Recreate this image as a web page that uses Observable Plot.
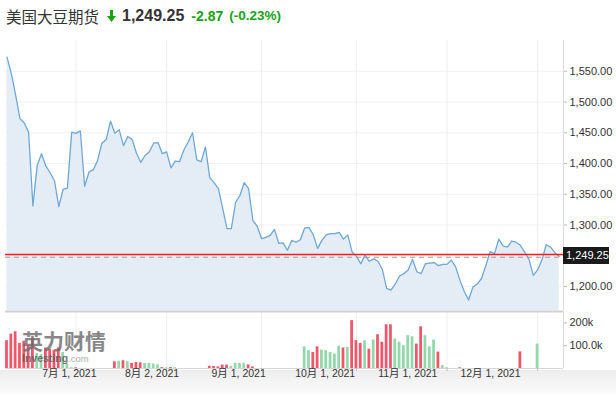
<!DOCTYPE html>
<html><head><meta charset="utf-8">
<script src="https://cdn.jsdelivr.net/npm/d3@7"></script>
<script src="https://cdn.jsdelivr.net/npm/@observablehq/plot@0.6"></script>
<style>
body{margin:0;width:616px;height:394px;position:relative;overflow:hidden;background:#fff;font-family:"Liberation Sans","Noto Sans CJK SC",sans-serif;}
#header{position:absolute;left:6px;top:4px;height:24px;line-height:24px;white-space:nowrap;color:#333;}
#header span{display:inline-block;vertical-align:top;}
.title{font-family:"Noto Sans CJK SC",sans-serif;font-size:15.5px;color:#333;}
.arrow{display:inline-block;vertical-align:top;margin:6px 6px 0 8px;}
.last{font-size:16px;font-weight:bold;color:#333;}
.chg{font-size:14px;font-weight:bold;color:#18a318;margin-left:7px;}
.pct{font-size:13.5px;font-weight:bold;color:#18a318;margin-left:6px;}
#price{position:absolute;left:0;top:34px;}
#tag{position:absolute;height:17px;width:46px;line-height:17px;background-color:#1a1a1a;color:#ffffff;font-size:11px;padding-left:3px;box-sizing:border-box;z-index:5;}
#bottombg{position:absolute;left:0;top:370px;width:616px;height:24px;background:linear-gradient(to bottom,#ededed,#fbfbfb);}
#vol{position:absolute;left:0;top:310px;}
#xlab{position:absolute;left:0;top:310px;width:562px;height:84px;overflow:hidden;}
#wm{position:absolute;left:22px;top:329px;pointer-events:none;opacity:0.8;}
#wm .cn{font-family:"Noto Sans CJK SC",sans-serif;font-weight:bold;font-size:21px;line-height:22px;color:#6a6a6a;}
#wm .en{font-size:9.5px;line-height:10px;color:#999;margin-top:2px;}
#wm .en b{color:#555;font-size:10.5px;}
</style></head><body>
<div id="header"><span class="title">美国大豆期货</span><svg class="arrow" width="9" height="12" viewBox="0 0 9 12"><path d="M3 0h3v6h3l-4.5 6L0 6h3z" fill="#18a318"/></svg><span class="last">1,249.25</span><span class="chg">-2.87</span><span class="pct">(-0.23%)</span></div>
<div id="price"></div>
<div id="tag"></div>
<div id="bottombg"></div>
<div id="vol"></div>
<div id="xlab"></div>
<div id="wm"><div class="cn">英力财情</div><div class="en"><b>Investing</b>.com</div></div>
<script>
// ---- data ----
const startDate = "2021-06-09";
const holidays = ["2021-07-05", "2021-11-25"];
const closes = [
 1573,1546,1511,1473,1466,1451,1331,1397,1416,1396,
 1385,1372,1330,1358,1360,1451,1449,1453,1363,1386,
 1390,1405,1433,1439,1469,1449,1455,1429,1444,1439,
 1417,1402,1413,1419,1433,1434,1416,1419,1393,1404,
 1403,1422,1435,1450,1406,1403,1427,1377,1369,1359,
 1327,1294,1294,1337,1348,1369,1359,1307,1298,1278,
 1280,1283,1293,1270,1271,1259,1275,1272,1276,1295,
 1296,1284,1262,1275,1284,1286,1286,1288,1277,1284,
 1256,1249,1237,1251,1241,1245,1241,1228,1197,1194,
 1204,1217,1221,1227,1244,1224,1221,1237,1238,1239,
 1234,1236,1236,1243,1232,1210,1192,1178,1199,1204,
 1213,1234,1257,1253,1277,1266,1264,1274,1272,1267,
 1256,1244,1218,1227,1243,1268,1264,1255,1249.25
];
// volume in thousands
const volumesK = [
 122,151,161,110,120,100,130,65,60,90,
 85,80,90,70,19,4,3,0,0,0,
 0,0,0,0,0,29,32,34,30,22,
 26,25,22,22,20,16,4,3,4,3,
 0,0,0,0,0,0,0,10,9,7,
 15,15,9,23,23,23,16,7,0,0,
 0,0,0,0,0,0,0,0,0,95,
 78,70,95,81,78,70,63,98,90,92,
 210,122,110,122,85,125,148,115,192,192,
 129,115,100,144,139,107,183,144,95,125,
 72,12,3,0,0,3,0,0,0,0,
 0,0,0,0,0,0,0,0,0,73,
 0,0,0,107,0,0,0,0,0
];
const lastPrice = 1249.25;
const prevClose = 1252.12;
const priceTicks = [1200,1300,1350,1400,1450,1500,1550];
const priceGrid = [1200,1250,1300,1350,1400,1450,1500,1550];
const volTicks = [100000, 200000];
const volTickLabels = ["100.0k", "200k"];
const tickDates = ["2021-07-01","2021-08-02","2021-09-01","2021-10-01","2021-11-01","2021-12-01"];
const tickLabels = ["7月 1, 2021","8月 2, 2021","9月 1, 2021","10月 1, 2021","11月 1, 2021","12月 1, 2021"];

// ---- build trading-day calendar ----
const dates = [];
{
  let d = new Date(startDate + "T00:00:00Z");
  while (dates.length < closes.length) {
    const s = d.toISOString().slice(0,10);
    const wd = d.getUTCDay();
    if (wd !== 0 && wd !== 6 && !holidays.includes(s)) dates.push(s);
    d = new Date(d.getTime() + 86400000);
  }
}
const data = closes.map((c, i) => ({
  idx: i, date: dates[i], close: c, vol: volumesK[i] * 1000,
  up: i > 0 && c >= closes[i-1]
}));
const tickIdx = tickDates.map(t => dates.indexOf(t));
const tickLabelOf = new Map(tickIdx.map((t, i) => [t, tickLabels[i]]));

const xDomain = [-0.35, 129];
const yDomain = [1161, 1600];
const volDomain = [0, 250000];
const W = 616, mL = 5, mR = 53;
const fontFamily = '"Liberation Sans","Noto Sans CJK SC",sans-serif';
const fmt2 = d3.format(",.2f");

const price = Plot.plot({
  width: W, height: 276,
  marginLeft: mL, marginRight: mR, marginTop: 6, marginBottom: 0,
  x: {domain: xDomain, axis: null},
  y: {domain: yDomain, axis: null},
  style: {fontFamily, fontSize: "11px", color: "#333", background: "transparent"},
  marks: [
    Plot.ruleY(priceGrid, {stroke: "#f1f1f1"}),
    Plot.ruleX(tickIdx, {stroke: "#eeeeee"}),
    Plot.areaY(data, {x: "idx", y1: yDomain[0], y2: "close", fill: "#e4edf5"}),
    Plot.line(data, {x: "idx", y: "close", stroke: "#6ea8d8", strokeWidth: 1.3}),
    Plot.ruleY([lastPrice], {stroke: "#999", strokeDasharray: "5,4", dy: 1}),
    Plot.ruleY([prevClose], {stroke: "#ff1a1a", strokeWidth: 1.4}),
    Plot.ruleX([xDomain[1]], {stroke: "#dddddd"}),
    Plot.axisY({anchor: "right", ticks: priceTicks, tickFormat: fmt2, tickSize: 3, tickPadding: 3,
      stroke: "#bbb", fill: "#333", label: null})
  ]
});
const priceHost = document.getElementById("price");
priceHost.appendChild(price);

// current-price tag, positioned with the plot's own scales
{
  const ty = price.scale("y").apply(lastPrice);
  const tx = price.scale("x").apply(xDomain[1]);
  const tag = document.getElementById("tag");
  tag.textContent = fmt2(lastPrice);
  tag.style.left = tx + "px";
  tag.style.top = (priceHost.offsetTop + ty - 8.5) + "px";
}

const vol = Plot.plot({
  width: W, height: 84,
  marginLeft: mL, marginRight: mR, marginTop: 1, marginBottom: 26,
  x: {domain: xDomain, axis: null},
  y: {domain: volDomain, axis: null},
  style: {fontFamily, fontSize: "11px", color: "#333", background: "transparent"},
  marks: [
    Plot.ruleX(tickIdx, {stroke: "#eeeeee"}),
    Plot.rectY(data.filter(d => d.vol > 0), {x1: d => d.idx - 0.32, x2: d => d.idx + 0.32, y1: 0, y2: "vol",
      fill: d => d.up ? "#93d7ab" : "#f0566a"}),
    Plot.ruleY([volDomain[1]], {stroke: "#d0d0d0", strokeWidth: 2}),
    Plot.ruleY([0], {stroke: "#d6d6d6"}),
    Plot.ruleX([xDomain[1]], {stroke: "#dddddd", y1: 0, y2: volDomain[1]}),
    Plot.axisX({ticks: tickIdx, tickSize: 3, tickFormat: () => "", stroke: "#bbb", label: null}),
    Plot.axisY({anchor: "right", ticks: volTicks, tickFormat: d => volTickLabels[volTicks.indexOf(d)],
      tickSize: 3, tickPadding: 3, stroke: "#bbb", fill: "#333", label: null})
  ]
});
document.getElementById("vol").appendChild(vol);

const xlab = Plot.plot({
  width: W, height: 84,
  marginLeft: mL, marginRight: mR, marginTop: 1, marginBottom: 26,
  x: {domain: xDomain, axis: null},
  style: {fontFamily, fontSize: "11.5px", color: "#333", background: "transparent", overflow: "visible"},
  marks: [
    Plot.axisX({ticks: tickIdx, tickSize: 0, tickPadding: 7, tickFormat: d => tickLabelOf.get(d), fill: "#333", label: null})
  ]
});
document.getElementById("xlab").appendChild(xlab);
</script>
</body></html>
